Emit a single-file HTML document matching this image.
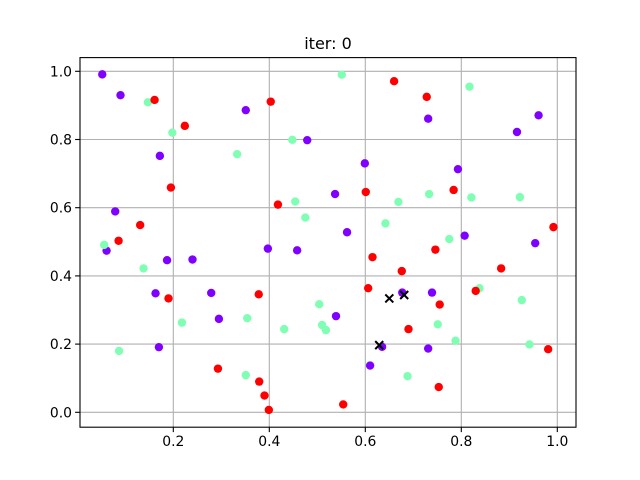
<!DOCTYPE html>
<html><head><meta charset="utf-8"><style>
body{margin:0;background:#fff;}
svg{display:block;font-family:"DejaVu Sans","Liberation Sans",sans-serif;}
</style></head><body>
<svg id="chart" width="640" height="480" viewBox="0 0 640 480" xmlns="http://www.w3.org/2000/svg">
<rect width="640" height="480" fill="#fff"/>
<text x="328" y="49" text-anchor="middle" font-size="16">iter: 0</text>
<g id="grid"></g>
<g id="points"></g>
<g id="axes"></g>
</svg>
<script>
const purpleX=[0.052,0.090,0.351,0.479,0.172,0.079,0.061,0.961,0.916,0.731,0.599,0.793,0.537,0.562,0.807,0.954,0.397,0.458,0.187,0.240,0.163,0.279,0.295,0.170,0.677,0.739,0.539,0.635,0.731,0.610];
const purpleY=[0.991,0.930,0.886,0.798,0.752,0.589,0.474,0.871,0.822,0.861,0.730,0.713,0.640,0.528,0.518,0.496,0.480,0.475,0.446,0.448,0.349,0.350,0.274,0.191,0.351,0.351,0.282,0.192,0.187,0.137];
const redX=[0.161,0.403,0.224,0.195,0.418,0.131,0.086,0.660,0.728,0.601,0.784,0.992,0.190,0.378,0.293,0.379,0.390,0.399,0.615,0.746,0.676,0.883,0.606,0.755,0.830,0.690,0.981,0.753,0.554];
const redY=[0.916,0.911,0.840,0.659,0.609,0.549,0.503,0.971,0.925,0.646,0.652,0.543,0.334,0.346,0.128,0.090,0.049,0.007,0.455,0.477,0.414,0.422,0.364,0.316,0.356,0.244,0.185,0.074,0.023];
const greenX=[0.147,0.198,0.448,0.333,0.454,0.475,0.056,0.551,0.817,0.669,0.733,0.821,0.922,0.642,0.775,0.138,0.504,0.218,0.354,0.431,0.510,0.518,0.087,0.351,0.838,0.926,0.751,0.788,0.942,0.688];
const greenY=[0.909,0.820,0.799,0.757,0.618,0.571,0.491,0.990,0.955,0.617,0.640,0.630,0.631,0.554,0.508,0.422,0.317,0.263,0.276,0.244,0.256,0.241,0.180,0.109,0.364,0.329,0.258,0.210,0.199,0.106];
const centerX=[0.650,0.681,0.629];
const centerY=[0.334,0.344,0.197];
const xTicks=[0.2,0.4,0.6,0.8,1.0];
const yTicks=[0.0,0.2,0.4,0.6,0.8,1.0];
const xTickLabels=["0.2","0.4","0.6","0.8","1.0"];
const yTickLabels=["0.0","0.2","0.4","0.6","0.8","1.0"];

const NS="http://www.w3.org/2000/svg";
const L=80,R=576,T=57.6,B=427.2;
function sx(v){return 77.3+v*480;}
function sy(v){return 412.3-v*341;}
function mk(tag,attrs,parent){const e=document.createElementNS(NS,tag);for(const k in attrs)e.setAttribute(k,attrs[k]);parent.appendChild(e);return e;}
const grid=document.getElementById('grid'),pts=document.getElementById('points'),axes=document.getElementById('axes');
xTicks.forEach((t,i)=>{
  const x=sx(t);
  const g=mk('line',{x1:x,x2:x,y1:T,y2:B,stroke:'#b0b0b0','stroke-width':1.1},grid);
  
  
  const tk=mk('line',{x1:x,x2:x,y1:B,y2:B+4.9,stroke:'#000','stroke-width':1.1},axes);
  
  
  const lb=mk('text',{x:x,y:B+19,'text-anchor':'middle','font-size':13.9},axes);
  lb.textContent=xTickLabels[i];
  
  
});
yTicks.forEach((t,i)=>{
  const y=sy(t);
  const g=mk('line',{x1:L,x2:R,y1:y,y2:y,stroke:'#b0b0b0','stroke-width':1.1},grid);
  
  
  const tk=mk('line',{x1:L-4.9,x2:L,y1:y,y2:y,stroke:'#000','stroke-width':1.1},axes);
  
  
  const lb=mk('text',{x:L-8,y:y+5,'text-anchor':'end','font-size':13.9},axes);
  lb.textContent=yTickLabels[i];
  
  
});
function series(xs,ys,color,name){
  xs.forEach((v,i)=>{
    const c=mk('circle',{cx:sx(v),cy:sy(ys[i]),r:4.2,fill:color},pts);
    
    
  });
}
series(purpleX,purpleY,'#8000ff','point-cluster-0');
series(greenX,greenY,'#80ffb4','point-cluster-1');
series(redX,redY,'#ff0000','point-cluster-2');
centerX.forEach((v,i)=>{
  const x=sx(v),y=sy(centerY[i]),d=4;
  const p=mk('path',{d:`M${x-d},${y-d}L${x+d},${y+d}M${x-d},${y+d}L${x+d},${y-d}`,stroke:'#000','stroke-width':2,fill:'none'},pts);
  
  
});
const fr=mk('rect',{x:L,y:T,width:R-L,height:B-T,fill:'none',stroke:'#000','stroke-width':1.1},axes);


</script>
</body></html>
